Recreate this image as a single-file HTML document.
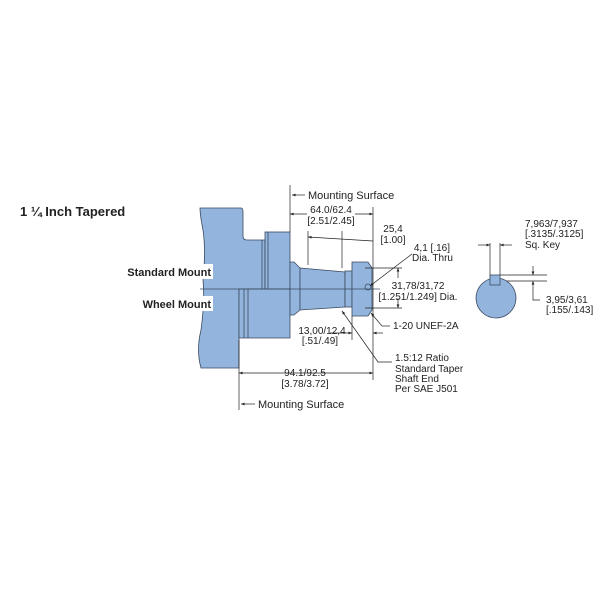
<!DOCTYPE html>
<html><head><meta charset="utf-8"><style>
body{margin:0;background:#fff}
svg text{font-family:"Liberation Sans",sans-serif;fill:#222}
</style></head><body>
<svg width="600" height="600" viewBox="0 0 600 600" xmlns="http://www.w3.org/2000/svg">
<defs><marker id="a" viewBox="0 0 10 10" refX="10" refY="5" markerWidth="6" markerHeight="5" orient="auto-start-reverse"><path d="M0,1L10,5L0,9z" fill="#222"/></marker></defs>
<text x="20" y="216" font-size="13" font-weight="bold">1 ¼ Inch Tapered</text>
<g fill="#93b5dd" stroke="#3a4a60" stroke-width="0.8">
<path d="M200,208 L241,208 Q243,208 243,212 L243,236 Q243,240 247,240 L265,240 L265,289 L239,289 L239,368 L201,368 Q196,350 201,330 Q205,300 203,280 Q206,250 203,230 Q200,215 200,208Z"/>
<rect x="265" y="232" width="25" height="57"/>
<path d="M239,289 L290,289 L290,338 L239,338Z"/>
<line x1="262" y1="240" x2="262" y2="289"/><line x1="268" y1="232" x2="268" y2="289"/>
<line x1="244" y1="289" x2="244" y2="338"/><line x1="248" y1="289" x2="248" y2="338"/>
<path d="M290,262 L294,262 L300,268 L300,310 L294,315 L290,315Z"/>
<path d="M300,268 L345,272 L345,307 L300,310Z"/>
<rect x="345" y="271" width="7" height="36"/>
<path d="M352,262 L368,262 L372,268 L372,310 L368,316 L352,316Z"/>
<circle cx="368" cy="287" r="3" fill="none"/>
</g>
<g stroke="#222" stroke-width="0.7" fill="none">
<line x1="200" y1="289" x2="380" y2="289" stroke="#3a4a60"/>
<line x1="290" y1="185" x2="290" y2="232"/>
<line x1="292" y1="195" x2="305" y2="195" marker-start="url(#a)"/>
<line x1="290" y1="214" x2="373" y2="214" marker-start="url(#a)" marker-end="url(#a)"/>
<line x1="373" y1="207" x2="373" y2="340"/>
<line x1="308" y1="231" x2="308" y2="265"/><line x1="342" y1="231" x2="342" y2="268"/>
<line x1="308" y1="237" x2="373" y2="241" marker-start="url(#a)"/>
<line x1="365" y1="268" x2="402" y2="268"/><line x1="365" y1="308" x2="402" y2="308"/>
<line x1="398" y1="278" x2="398" y2="268" marker-end="url(#a)"/>
<line x1="398" y1="298" x2="398" y2="308" marker-end="url(#a)"/>
<line x1="412" y1="254" x2="370" y2="286" marker-end="url(#a)"/>
<polyline points="382,326 390,326"/><line x1="382" y1="326" x2="371" y2="313" marker-end="url(#a)"/>
<line x1="352" y1="316" x2="352" y2="340"/>
<line x1="330" y1="333" x2="352" y2="333" marker-end="url(#a)"/>
<line x1="383" y1="333" x2="373" y2="333" marker-end="url(#a)"/>
<polyline points="392,362 378,362 342,311" marker-end="url(#a)"/>
<line x1="239" y1="340" x2="239" y2="410"/>
<line x1="239" y1="373" x2="373" y2="373" marker-start="url(#a)" marker-end="url(#a)"/>
<line x1="373" y1="340" x2="373" y2="380"/>
<line x1="241" y1="404" x2="255" y2="404" marker-start="url(#a)"/>
<line x1="490" y1="243" x2="490" y2="278"/><line x1="500" y1="243" x2="500" y2="276"/>
<line x1="478" y1="245" x2="490" y2="245" marker-end="url(#a)"/>
<line x1="512" y1="245" x2="500" y2="245" marker-end="url(#a)"/>
<line x1="500" y1="275" x2="547" y2="275"/><line x1="500" y1="281" x2="547" y2="281"/>
<line x1="533" y1="266" x2="533" y2="275" marker-end="url(#a)"/>
<polyline points="533,293 533,300 540,300"/><line x1="533" y1="293" x2="533" y2="281" marker-end="url(#a)"/>
</g>
<circle cx="496" cy="298" r="20" fill="#93b5dd" stroke="#3a4a60" stroke-width="0.8"/>
<rect x="490" y="275" width="10" height="10" fill="#93b5dd" stroke="#3a4a60" stroke-width="0.8"/>
<rect x="307" y="204" width="48" height="22" fill="#fff"/>
<g font-size="10">
<text x="308" y="199" font-size="11">Mounting Surface</text>
<text x="258" y="408" font-size="11">Mounting Surface</text>
<text x="331" y="213" text-anchor="middle">64.0/62.4</text>
<text x="331" y="224" text-anchor="middle">[2.51/2.45]</text>
<text x="393" y="232" text-anchor="middle">25,4</text>
<text x="393" y="243" text-anchor="middle">[1.00]</text>
<text x="450" y="251" text-anchor="end">4,1 [.16]</text>
<text x="453" y="261" text-anchor="end">Dia. Thru</text>
<text x="418" y="289" text-anchor="middle">31,78/31,72</text>
<text x="418" y="300" text-anchor="middle">[1.251/1.249] Dia.</text>
<text x="393" y="329">1-20 UNEF-2A</text>
<text x="322" y="334" text-anchor="middle">13,00/12,4</text>
<text x="320" y="344" text-anchor="middle">[.51/.49]</text>
<text x="395" y="361">1.5:12 Ratio</text>
<text x="395" y="372">Standard Taper</text>
<text x="395" y="382">Shaft End</text>
<text x="395" y="392">Per SAE J501</text>
<text x="305" y="376" text-anchor="middle">94.1/92.5</text>
<text x="305" y="387" text-anchor="middle">[3.78/3.72]</text>
<text x="525" y="227">7,963/7,937</text>
<text x="525" y="237">[.3135/.3125]</text>
<text x="525" y="248">Sq. Key</text>
<text x="546" y="303">3,95/3,61</text>
<text x="546" y="313">[.155/.143]</text>
</g>
<rect x="124" y="264" width="89" height="15" fill="#fff"/>
<rect x="138" y="296" width="75" height="15" fill="#fff"/>
<g font-size="11" font-weight="bold">
<text x="211" y="276" text-anchor="end">Standard Mount</text>
<text x="211" y="308" text-anchor="end">Wheel Mount</text>
</g>
</svg>
</body></html>
